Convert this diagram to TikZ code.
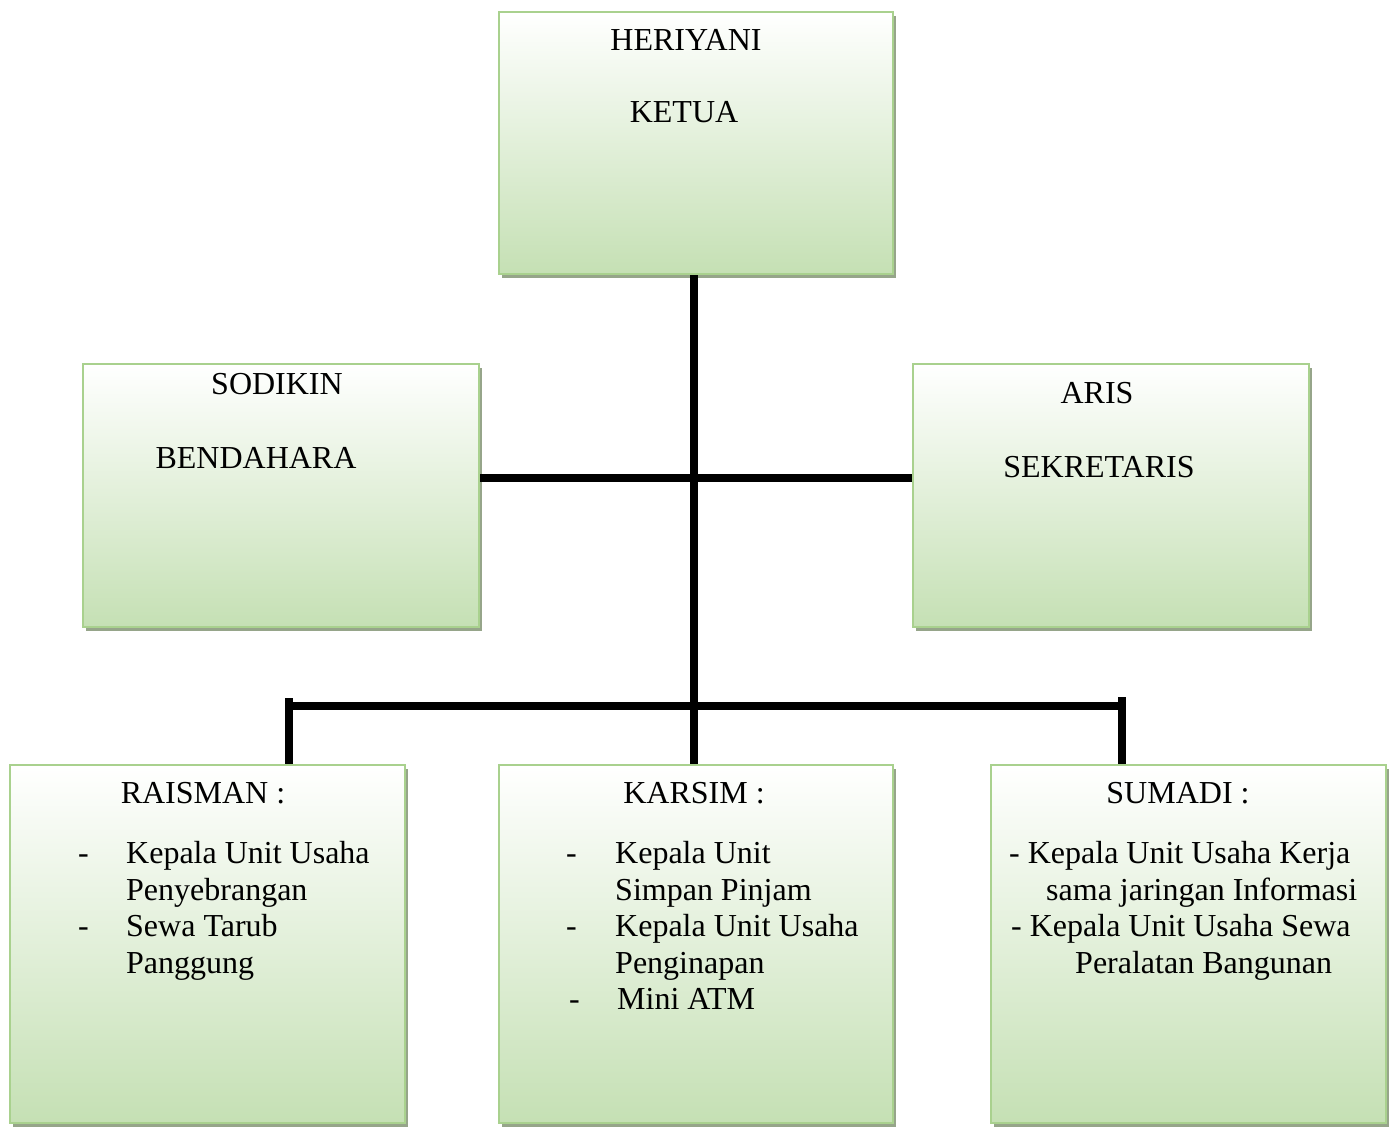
\documentclass[tikz,border=0pt]{standalone}
\usepackage{fontspec}
\setmainfont{Liberation Serif}
\usetikzlibrary{shadows}
\definecolor{boxgreen}{RGB}{197,224,180}
\definecolor{boxedge}{RGB}{169,209,142}
\definecolor{shadowc}{RGB}{150,165,138}
\begin{document}
\begin{tikzpicture}[x=1pt,y=-1pt,
  orgbox/.style={draw=boxedge, line width=2pt, top color=white, bottom color=boxgreen,
    anchor=north west, inner sep=0pt,
    drop shadow={shadow xshift=3pt, shadow yshift=-4pt, fill=shadowc, opacity=1}},
  lbl/.style={anchor=base, inner sep=0pt, font=\fontsize{32}{36}\selectfont},
  ltxt/.style={anchor=base west, inner sep=0pt, font=\fontsize{32}{36}\selectfont},
  link/.style={line width=8pt, black}]
\useasboundingbox (0,0) rectangle (1392,1129);
% boxes
\node[orgbox, minimum width=394pt, minimum height=262pt] (ketua) at (498,11) {};
\node[orgbox, minimum width=396pt, minimum height=263pt] (bend) at (82,363) {};
\node[orgbox, minimum width=396pt, minimum height=263pt] (sek) at (912,363) {};
\node[orgbox, minimum width=395pt, minimum height=358pt] (raisman) at (9,764) {};
\node[orgbox, minimum width=394pt, minimum height=358pt] (karsim) at (498,764) {};
\node[orgbox, minimum width=395pt, minimum height=358pt] (sumadi) at (990,764) {};
% connectors
\coordinate (busL) at (285,706);
\coordinate (busR) at (1126,706);
\coordinate (tickL) at (289,698);
\coordinate (tickR) at (1122,697);
\draw[link] (ketua.south -| 694,0) -- (karsim.north -| 694,0);
\draw[link] (bend.east |- 0,478) -- (sek.west |- 0,478);
\draw[link] (busL) -- (busR);
\draw[link] (tickL) -- (raisman.north -| tickL);
\draw[link] (tickR) -- (sumadi.north -| tickR);
% texts
\node[lbl] (t1) at (686,51) {HERIYANI};
\node[lbl] (t2) at (684,123) {KETUA};
\node[lbl] (t3) at (277,394) {SODIKIN};
\node[lbl] (t4) at (256,468) {BENDAHARA};
\node[lbl] (t5) at (1097,403) {ARIS};
\node[lbl] (t6) at (1099,477) {SEKRETARIS};
\node[lbl] (t7) at (203,803) {RAISMAN :};
\node[lbl] (t8) at (694,803) {KARSIM :};
\node[lbl] (t9) at (1178,803) {SUMADI :};
% Raisman list
\node[ltxt] (r1) at (78,863) {-};
\node[ltxt] (r2) at (126,863) {Kepala Unit Usaha};
\node[ltxt] (r3) at (126,900) {Penyebrangan};
\node[ltxt] (r4) at (78,936) {-};
\node[ltxt] (r5) at (126,936) {Sewa Tarub};
\node[ltxt] (r6) at (126,973) {Panggung};
% Karsim list
\node[ltxt] (k1) at (566,863) {-};
\node[ltxt] (k2) at (615,863) {Kepala Unit};
\node[ltxt] (k3) at (615,900) {Simpan Pinjam};
\node[ltxt] (k4) at (566,936) {-};
\node[ltxt] (k5) at (615,936) {Kepala Unit Usaha};
\node[ltxt] (k6) at (615,973) {Penginapan};
\node[ltxt] (k7) at (569,1009) {-};
\node[ltxt] (k8) at (617,1009) {Mini ATM};
% Sumadi list
\node[ltxt] (s1) at (1009,863) {- Kepala Unit Usaha Kerja};
\node[ltxt] (s2) at (1046,900) {sama jaringan Informasi};
\node[ltxt] (s3) at (1011,936) {- Kepala Unit Usaha Sewa};
\node[ltxt] (s4) at (1075,973) {Peralatan Bangunan};
\end{tikzpicture}
\end{document}
